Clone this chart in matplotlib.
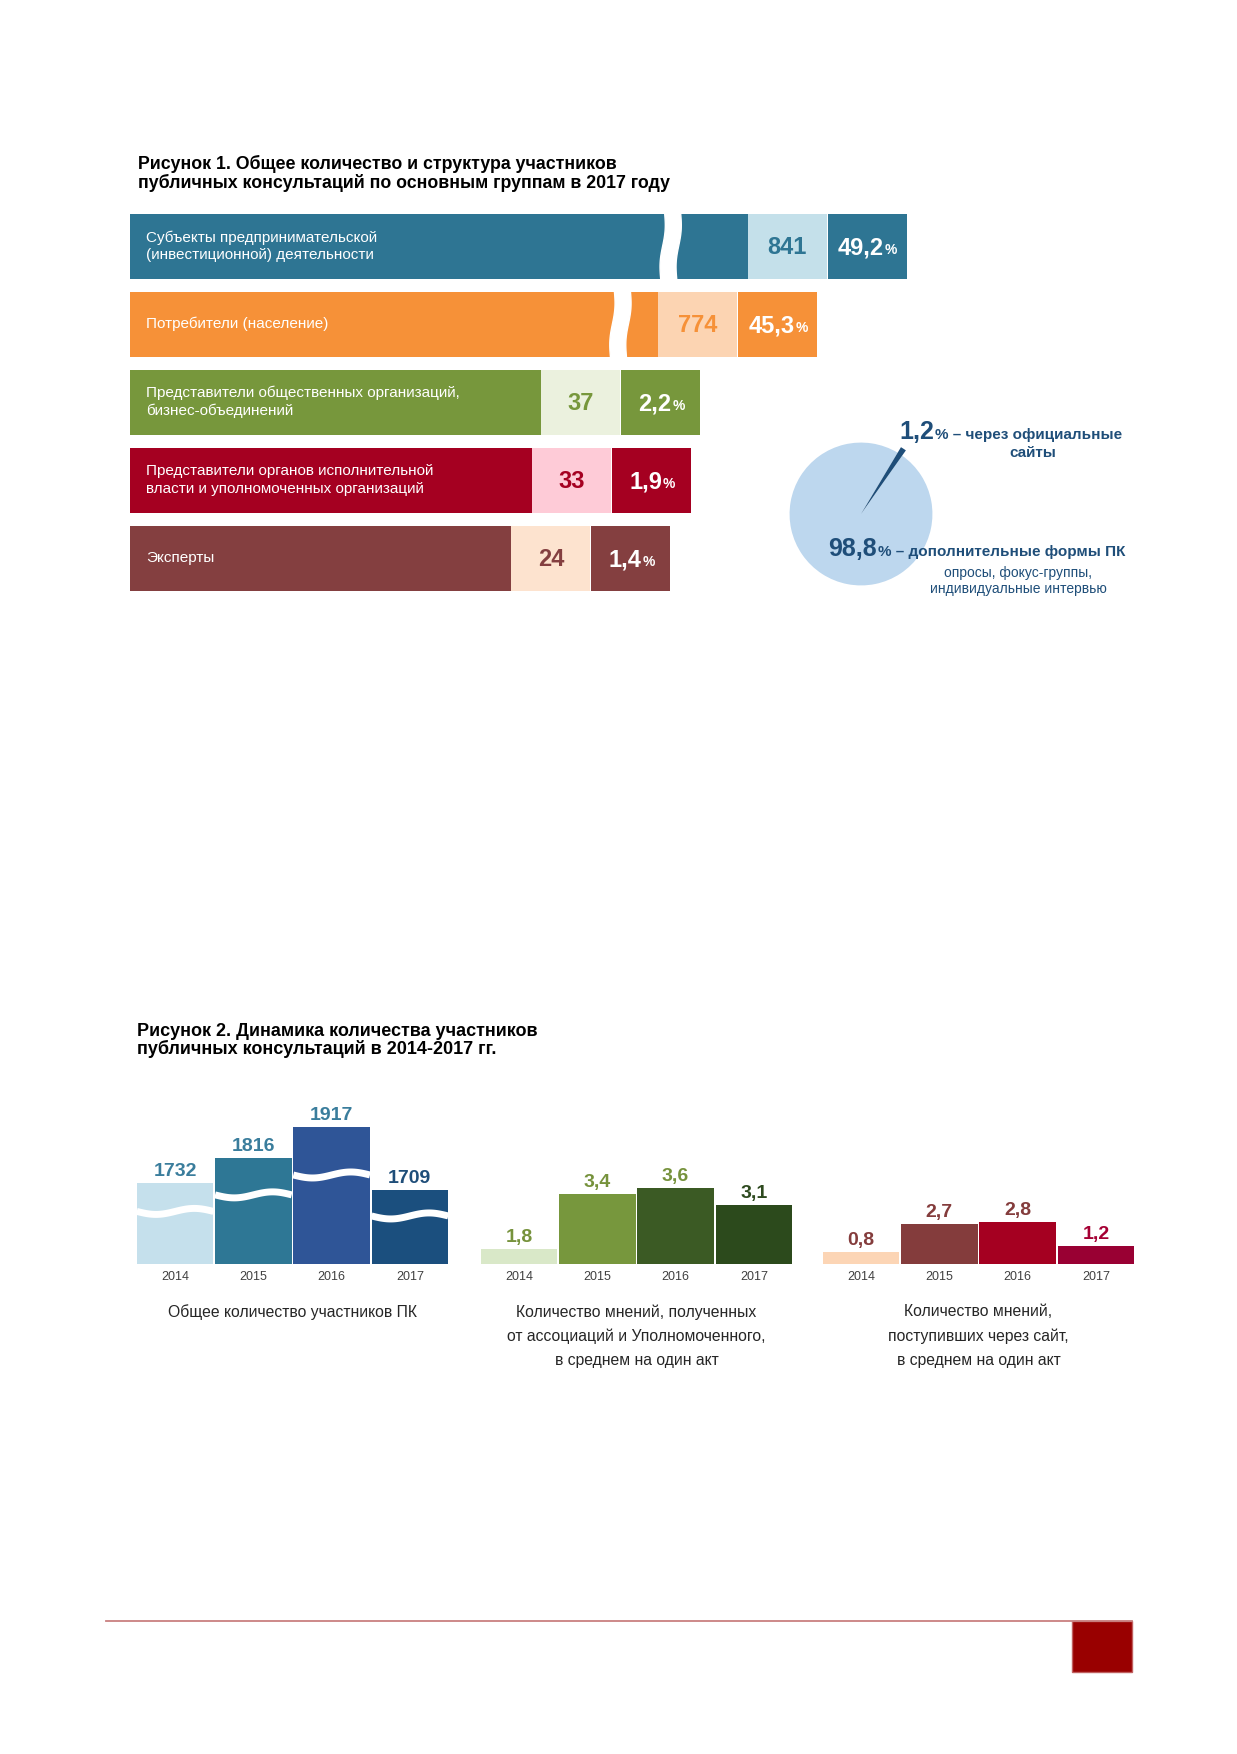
import numpy as np
import matplotlib
matplotlib.use("Agg")
from matplotlib import pyplot as plt
from matplotlib.patches import Rectangle, Polygon

plt.rcParams['font.family'] = ['Liberation Sans', 'DejaVu Sans']

# --- Рисунок 1 ---
groups = ["Субъекты предпринимательской\n(инвестиционной) деятельности",
          "Потребители (население)",
          "Представители общественных организаций,\nбизнес-объединений",
          "Представители органов исполнительной\nвласти и уполномоченных организаций",
          "Эксперты"]
counts = [841, 774, 37, 33, 24]
shares = ["49,2", "45,3", "2,2", "1,9", "1,4"]
bar_colors = ["#2e7593", "#f69138", "#77973c", "#a50021", "#843f40"]
box_colors = ["#c4e0ea", "#fcd4b2", "#ebf1de", "#fecbd7", "#fde3cf"]

pie_values = [1.2, 98.8]
pie_colors = ["#1f4e79", "#bdd7ee"]

# --- Рисунок 2 ---
years = ["2014", "2015", "2016", "2017"]
total = [1732, 1816, 1917, 1709]
assoc = [1.8, 3.4, 3.6, 3.1]
site = [0.8, 2.7, 2.8, 1.2]

total_colors = ["#c5e0ec", "#2e7795", "#2f5597", "#1b4f7e"]
total_lbl = ["#3a7d9c", "#3a7d9c", "#3a7d9c", "#1f4e79"]
assoc_colors = ["#d9e8c8", "#77973d", "#3b5a24", "#2c4a1c"]
assoc_lbl = ["#76923c", "#76923c", "#76923c", "#2e4a1f"]
site_colors = ["#fcd5b5", "#843c3c", "#a50021", "#990033"]
site_lbl = ["#843c3c", "#843c3c", "#843c3c", "#a50034"]

captions = ["Общее количество участников ПК",
            "Количество мнений, полученных\nот ассоциаций и Уполномоченного,\nв среднем на один акт",
            "Количество мнений,\nпоступивших через сайт,\nв среднем на один акт"]

NAVY = "#1f4e79"
W, H = 1237, 1754
fig = plt.figure(figsize=(W / 100, H / 100), dpi=100)
ax = fig.add_axes([0, 0, 1, 1])
ax.set_xlim(0, W)
ax.set_ylim(H, 0)
ax.axis('off')
ax.set_zorder(2)
r = fig.canvas.get_renderer()


def shown(v):
    # the two big groups are drawn on a compressed (broken) scale
    v = np.asarray(v, float)
    return np.where(v < 100, 326 + 2.31 * v, 430 + 1.33 * (v - 700))


def px_axes(left, top, right, bottom):
    return fig.add_axes([left / W, 1 - bottom / H, (right - left) / W, (bottom - top) / H])


def pair_text(xc, y, big, small, color, bsize, ssize, align='center'):
    # big bold number followed by smaller text, on one baseline
    t1 = ax.text(0, y, big, fontsize=bsize, weight='bold', color=color, va='baseline', ha='left')
    t2 = ax.text(0, y, small, fontsize=ssize, weight='bold', color=color, va='baseline', ha='left')
    w1 = t1.get_window_extent(r).width
    w2 = t2.get_window_extent(r).width
    start = xc - (w1 + w2) / 2 if align == 'center' else xc
    t1.set_x(start)
    t2.set_x(start + w1 + 1)


ax.text(138, 155, "Рисунок 1. Общее количество и структура участников\n"
        "публичных консультаций по основным группам в 2017 году",
        fontsize=12.8, weight='bold', va='top', ha='left', linespacing=1.05)

x0 = 130
bh = 65
rows = 246 + 78 * np.arange(len(counts))
main = shown(counts)
ax.barh(rows, main, left=x0, height=bh, color=bar_colors)
ax.barh(rows, 79, left=x0 + main, height=bh, color=box_colors)
ax.barh(rows, 79, left=x0 + main + 80, height=bh, color=bar_colors)

for i, v in enumerate(counts):
    y = rows[i]
    if v > 100:
        xc = x0 + main[i] - 0.58 * (v - 724) - 9
        yy = np.linspace(y - bh / 2 - 1, y + bh / 2 + 1, 60)
        t = (yy - y) / (bh / 2)
        curve = xc - 2 * t - 1.5 * np.sin(np.pi * t)
        pts = np.column_stack([np.r_[curve - 8, (curve + 8)[::-1]], np.r_[yy, yy[::-1]]])
        ax.add_patch(Polygon(pts, closed=True, color='white', zorder=3))
    ax.text(x0 + 16, y, groups[i], color='white', fontsize=11, va='center', ha='left',
            linespacing=1.3, zorder=4)
    ax.text(x0 + main[i] + 39.5, y + 8.5, str(v), color=bar_colors[i], fontsize=17,
            weight='bold', ha='center', va='baseline', zorder=4)
    pair_text(x0 + main[i] + 119.5, y + 8.5, shares[i], "%", 'white', 17, 10)

# pie
pax = px_axes(761, 414, 961, 614)
pax.set_zorder(1)
wedges, _ = pax.pie(pie_values, colors=pie_colors, startangle=54.8, counterclock=True,
                    radius=1, wedgeprops=dict(linewidth=0))
wedges[0].set_radius(1.09)
wedges[0].set_zorder(3)
pax.set_xlim(-1.4, 1.4)
pax.set_ylim(-1.4, 1.4)
pax.set_aspect('equal')
pax.axis('off')

pair_text(899, 439, "1,2", "% – через официальные", NAVY, 18, 11, align='left')
ax.text(1033, 457, "сайты", color=NAVY, fontsize=11, weight='bold', ha='center', va='baseline')
pair_text(828, 556, "98,8", "% – дополнительные формы ПК", NAVY, 18, 11, align='left')
ax.text(1018, 577, "опросы, фокус-группы,", color=NAVY, fontsize=10, ha='center', va='baseline')
ax.text(1018, 593, "индивидуальные интервью", color=NAVY, fontsize=10, ha='center', va='baseline')

# --- Рисунок 2 ---
ax.text(137, 1023, "Рисунок 2. Динамика количества участников\n"
        "публичных консультаций в 2014-2017 гг.",
        fontsize=13, weight='bold', va='top', ha='left', linespacing=1.0)

charts = [
    (total, 136, 1465, 0.303, total_colors, total_lbl, True),
    (assoc, 480, 1.35, 34.0, assoc_colors, assoc_lbl, False),
    (site, 822, 0.0, 15.0, site_colors, site_lbl, False),
]
base_y = 1264
for k, (vals, left, low, ppu, cols, lcols, wavy) in enumerate(charts):
    cax = px_axes(left, 1000, left + 313, base_y)
    cax.bar(range(4), vals, width=0.975, color=cols)
    cax.set_xlim(-0.5, 3.5)
    cax.set_ylim(low, low + (base_y - 1000) / ppu)
    cax.set_xticks(range(4), years)
    cax.set_yticks([])
    cax.tick_params(length=0, pad=5, labelsize=9, labelcolor='#404040')
    for s in cax.spines.values():
        s.set_visible(False)
    cax.patch.set_visible(False)
    for i, v in enumerate(vals):
        lab = str(v) if isinstance(v, int) else f"{v:.1f}".replace('.', ',')
        cax.annotate(lab, (i, v), xytext=(0, 5), textcoords='offset points', ha='center',
                     va='baseline', fontsize=14, weight='bold', color=lcols[i])
        if wavy:
            xs = np.linspace(i - 0.49, i + 0.49, 60)
            level = low + 0.65 * (v - low)
            cax.plot(xs, level - (3 / ppu) * np.sin(2 * np.pi * (xs - i + 0.49) / 0.98),
                     color='white', lw=5, solid_capstyle='butt')
    ax.text(left + 156.5, 1304, captions[k], fontsize=11.3, color='#262626', ha='center',
            va='top', linespacing=1.75)

# footer
ax.plot([106, 1132], [1621, 1621], color='#c98080', lw=1.3)
ax.add_patch(Rectangle((1072, 1621), 60, 51, facecolor='#990000', edgecolor='#c06060', lw=1))

fig.savefig("out.png", dpi=100)
